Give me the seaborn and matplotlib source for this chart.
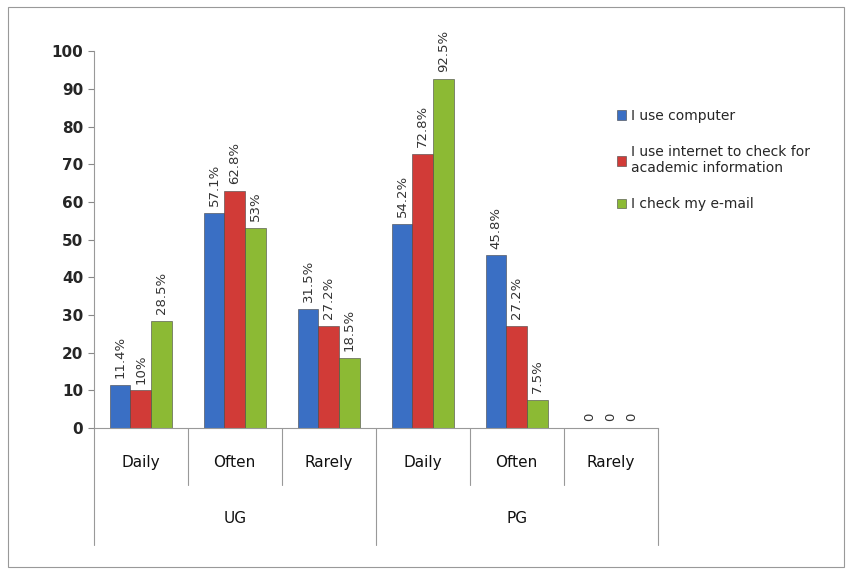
import pandas as pd
import numpy as np
import matplotlib
matplotlib.use("Agg")
import matplotlib.pyplot as plt
import seaborn as sns
from matplotlib.patches import Rectangle

# --------------------------------------------------------------
# Data
# --------------------------------------------------------------
groups = ["UG", "UG", "UG", "PG", "PG", "PG"]
frequency = ["Daily", "Often", "Rarely", "Daily", "Often", "Rarely"]
use_computer = [11.4, 57.1, 31.5, 54.2, 45.8, 0]
use_internet = [10, 62.8, 27.2, 72.8, 27.2, 0]
check_email = [28.5, 53, 18.5, 92.5, 7.5, 0]
value_labels = [
    ["11.4%", "57.1%", "31.5%", "54.2%", "45.8%", "0"],
    ["10%", "62.8%", "27.2%", "72.8%", "27.2%", "0"],
    ["28.5%", "53%", "18.5%", "92.5%", "7.5%", "0"],
]
series_names = [
    "I use computer",
    "I use internet to check for\nacademic information",
    "I check my e-mail",
]
colors = ["#3a6fc4", "#d13b37", "#8cba34"]

# long table for seaborn
slots = [f"{g} {f}" for g, f in zip(groups, frequency)]
rows = []
for name, vals in zip(series_names, [use_computer, use_internet, check_email]):
    for s, v in zip(slots, vals):
        rows.append({"slot": s, "series": name, "value": v})
df = pd.DataFrame(rows)

# --------------------------------------------------------------
# Plot
# --------------------------------------------------------------
sns.set_style("white")
plt.rcParams["font.family"] = ["DejaVu Sans"]

fig = plt.figure(figsize=(8.52, 5.74), dpi=100)
ax = fig.add_axes([0.110, 0.254, 0.662, 0.657])

sns.barplot(data=df, x="slot", y="value", hue="series", order=slots,
            hue_order=series_names, palette=colors, saturation=1,
            width=0.66, edgecolor="#444444", linewidth=0.4, ax=ax)

ax.set_ylim(0, 100)
ax.set_xlim(-0.5, 5.5)
ax.set_yticks(range(0, 101, 10))
ax.tick_params(axis="y", labelsize=11, length=4, color="#888888",
               direction="out", left=True)
for lab in ax.get_yticklabels():
    lab.set_fontweight("bold")
ax.set_xticks([])
ax.set_xlabel("")
ax.set_ylabel("")
for side in ["top", "right"]:
    ax.spines[side].set_visible(False)
for side in ["left", "bottom"]:
    ax.spines[side].set_color("#999999")
    ax.spines[side].set_linewidth(0.8)

# value labels above bars
for cont, labs in zip(ax.containers, value_labels):
    ax.bar_label(cont, labels=labs, rotation=90, padding=5,
                 fontsize=9.5, color="#333333")

# two-level category axis
trans = ax.get_xaxis_transform()
for i, f in enumerate(frequency):
    ax.text(i, -0.09, f, transform=trans, ha="center", va="center",
            fontsize=11, color="#111111")
for i in range(1, 6):
    if i == 3:
        continue
    ax.plot([i - 0.5, i - 0.5], [0, -0.151], transform=trans,
            color="#999999", lw=0.8, clip_on=False)
for x in [-0.5, 2.5, 5.5]:
    ax.plot([x, x], [0, -0.31], transform=trans,
            color="#999999", lw=0.8, clip_on=False)
for x, g in [(1, "UG"), (4, "PG")]:
    ax.text(x, -0.239, g, transform=trans, ha="center", va="center",
            fontsize=11, color="#111111")

# legend
leg = ax.legend(loc="upper left", bbox_to_anchor=(0.905, 0.88),
                frameon=False, fontsize=10, handlelength=0.7,
                handleheight=0.7, handletextpad=0.3, labelspacing=1.6)

# outer frame of the picture
fig.patches.append(Rectangle((0.009, 0.012), 0.982, 0.976,
                             transform=fig.transFigure, fill=False,
                             edgecolor="#999999", lw=0.8))

fig.savefig("out.png", dpi=100)
